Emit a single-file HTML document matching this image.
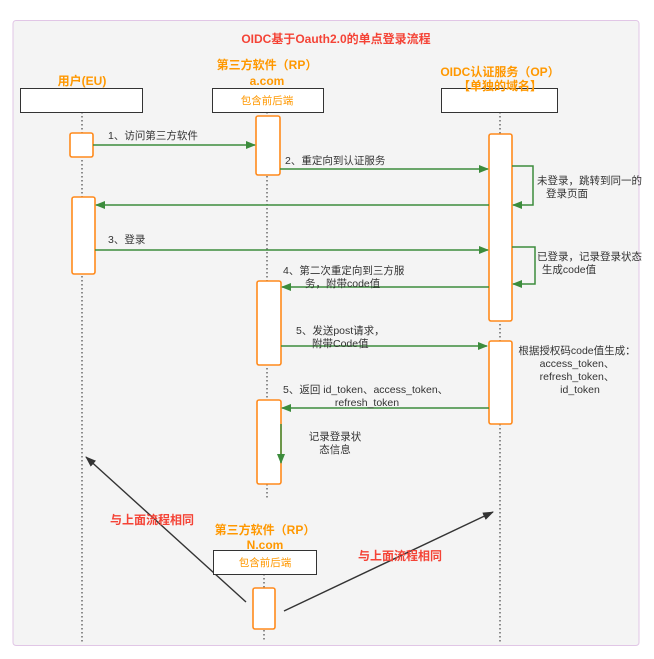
<!DOCTYPE html>
<html><head><meta charset="utf-8"><style>
html,body{margin:0;padding:0;background:#fff;}
svg{display:block;font-family:"Liberation Sans","Noto Sans CJK SC",sans-serif;}
.t{font-size:10.5px;fill:#333;}
.o{fill:#ff9800;font-weight:bold;font-size:12px;}
.r{fill:#f44336;font-weight:bold;font-size:12px;}
.ll{stroke:#555;stroke-width:1.3;stroke-dasharray:1.5,2.5;}
.act{fill:#fff;stroke:#ff8a1c;stroke-width:1.6;}
.g{stroke:#3c8c3c;stroke-width:1.5;fill:none;}
.hb{fill:#fff;stroke:#333;stroke-width:1;}
</style></head><body>
<svg width="654" height="659" viewBox="0 0 654 659">
<defs>
<marker id="ga" markerWidth="10" markerHeight="8" refX="9" refY="4" orient="auto" markerUnits="userSpaceOnUse"><path d="M0,0 L10,4 L0,8 z" fill="#3c8c3c"/></marker>
<marker id="ka" markerWidth="11" markerHeight="8" refX="10" refY="4" orient="auto" markerUnits="userSpaceOnUse"><path d="M0,0 L11,4 L0,8 z" fill="#333"/></marker>
</defs>
<rect x="13" y="20.5" width="626" height="625" rx="3" fill="#f4f4f4" stroke="#e1c6e6" stroke-width="1"/>
<text x="336" y="43" text-anchor="middle" class="r" font-size="15">OIDC基于Oauth2.0的单点登录流程</text>

<!-- lifelines -->
<line class="ll" x1="82" y1="112" x2="82" y2="642"/>
<line class="ll" x1="267" y1="112" x2="267" y2="500"/>
<line class="ll" x1="500" y1="112" x2="500" y2="642"/>
<line class="ll" x1="264" y1="574" x2="264" y2="642"/>

<!-- headers -->
<text x="82" y="85" text-anchor="middle" class="o">用户(EU)</text>
<rect class="hb" x="20.5" y="88.5" width="122" height="24"/>
<text x="267" y="69" text-anchor="middle" class="o">第三方软件（RP）</text>
<text x="267" y="85" text-anchor="middle" class="o">a.com</text>
<rect class="hb" x="212.5" y="88.5" width="111" height="24"/>
<text x="267" y="104" text-anchor="middle" font-size="10.5" fill="#ff9800">包含前后端</text>
<text x="500" y="76" text-anchor="middle" class="o">OIDC认证服务（OP）</text>
<rect class="hb" x="441.5" y="88.5" width="116" height="24"/>
<text x="500" y="90" text-anchor="middle" class="o">【单独的域名】</text>

<!-- activations -->
<rect class="act" x="70" y="133" width="23" height="24" rx="2"/>
<rect class="act" x="256" y="116" width="24" height="59" rx="2"/>
<rect class="act" x="489" y="134" width="23" height="187" rx="2"/>
<rect class="act" x="72" y="197" width="23" height="77" rx="2"/>
<rect class="act" x="257" y="281" width="24" height="84" rx="2"/>
<rect class="act" x="489" y="341" width="23" height="83" rx="2"/>
<rect class="act" x="257" y="400" width="24" height="84" rx="2"/>

<!-- messages -->
<line class="g" x1="93" y1="145" x2="255" y2="145" marker-end="url(#ga)" stroke-width="2"/>
<text x="108" y="139" class="t">1、访问第三方软件</text>
<line class="g" x1="280" y1="169" x2="488" y2="169" marker-end="url(#ga)" stroke-width="1.2"/>
<text x="285" y="164" class="t">2、重定向到认证服务</text>
<polyline class="g" points="512,166 533,166 533,205 513,205" marker-end="url(#ga)" stroke-width="2"/>
<text x="537" y="184" class="t">未登录，跳转到同一的</text>
<text x="567" y="197" class="t" text-anchor="middle">登录页面</text>
<line class="g" x1="489" y1="205" x2="96" y2="205" marker-end="url(#ga)" stroke-width="1.2"/>
<line class="g" x1="95" y1="250" x2="488" y2="250" marker-end="url(#ga)" stroke-width="2"/>
<text x="108" y="243" class="t">3、登录</text>
<polyline class="g" points="512,247 535,247 535,284 513,284" marker-end="url(#ga)" stroke-width="2"/>
<text x="537" y="260" class="t">已登录，记录登录状态</text>
<text x="569" y="273" class="t" text-anchor="middle">生成code值</text>
<line class="g" x1="489" y1="287" x2="282" y2="287" marker-end="url(#ga)" stroke-width="1.2"/>
<text x="283" y="274" class="t">4、第二次重定向到三方服</text>
<text x="305" y="287" class="t">务，附带code值</text>
<line class="g" x1="281" y1="346" x2="487" y2="346" marker-end="url(#ga)" stroke-width="2"/>
<text x="296" y="334" class="t">5、发送post请求，</text>
<text x="312" y="347" class="t">附带Code值</text>
<text x="577" y="354" class="t" text-anchor="middle">根据授权码code值生成：</text>
<text x="577" y="367" class="t" text-anchor="middle">access_token、</text>
<text x="577" y="380" class="t" text-anchor="middle">refresh_token、</text>
<text x="580" y="393" class="t" text-anchor="middle">id_token</text>
<line class="g" x1="489" y1="408" x2="282" y2="408" marker-end="url(#ga)" stroke-width="1.5"/>
<text x="283" y="393" class="t">5、返回 id_token、access_token、</text>
<text x="367" y="406" class="t" text-anchor="middle">refresh_token</text>
<line class="g" x1="281" y1="424" x2="281" y2="463" marker-end="url(#ga)" stroke-width="1.5"/>
<text x="335" y="440" class="t" text-anchor="middle">记录登录状</text>
<text x="335" y="453" class="t" text-anchor="middle">态信息</text>

<!-- bottom -->
<line x1="246" y1="602" x2="86" y2="457" stroke="#333" stroke-width="1.4" marker-end="url(#ka)"/>
<line x1="284" y1="611" x2="493" y2="512" stroke="#333" stroke-width="1.4" marker-end="url(#ka)"/>
<text x="110" y="524" class="r" font-size="11.5">与上面流程相同</text>
<text x="358" y="560" class="r" font-size="11.5">与上面流程相同</text>
<text x="265" y="534" text-anchor="middle" class="o">第三方软件（RP）</text>
<text x="265" y="549" text-anchor="middle" class="o">N.com</text>
<rect class="hb" x="213.5" y="550.5" width="103" height="24"/>
<text x="265" y="566" text-anchor="middle" font-size="10.5" fill="#ff9800">包含前后端</text>
<rect class="act" x="253" y="588" width="22" height="41" rx="2"/>
</svg>
</body></html>
